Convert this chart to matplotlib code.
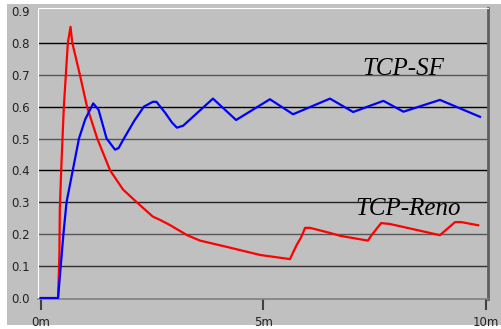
import matplotlib
matplotlib.use("Agg")
from matplotlib import pyplot as plt

# TCP-Reno (red)
reno_t = [0, 0.39, 0.41, 0.42, 0.43, 0.46, 0.52, 0.61, 0.67, 0.71, 0.88, 1.04, 1.27,
          1.56, 1.85, 2.16, 2.52, 2.68, 2.9, 3.29, 3.58, 4.19, 4.93, 5.6, 5.75, 5.85,
          5.94, 6.05, 6.5, 6.73, 7.35, 7.45, 7.65, 7.85, 8.97, 9.31, 9.45, 9.83]
reno_v = [0, 0, 0.09, 0.14, 0.28, 0.4, 0.6, 0.8, 0.85, 0.8, 0.7, 0.6, 0.5,
          0.4, 0.34, 0.3, 0.255, 0.245, 0.229, 0.197, 0.18, 0.16, 0.135, 0.122, 0.166, 0.19,
          0.22, 0.22, 0.204, 0.195, 0.18, 0.2, 0.235, 0.232, 0.197, 0.238, 0.238, 0.228]

# TCP-SF (blue)
sf_t = [0, 0.39, 0.45, 0.51, 0.58, 0.72, 0.86, 1.0, 1.18, 1.3, 1.48, 1.67, 1.75, 1.87,
        2.1, 2.32, 2.52, 2.6, 2.8, 2.95, 3.06, 3.2, 3.87, 4.39, 5.15, 5.67, 6.5, 7.02,
        7.7, 8.15, 8.97, 9.87]
sf_v = [0, 0, 0.1, 0.2, 0.3, 0.4, 0.5, 0.56, 0.61, 0.59, 0.5, 0.465, 0.47, 0.5,
        0.555, 0.6, 0.615, 0.615, 0.58, 0.55, 0.534, 0.54, 0.625, 0.558, 0.623, 0.576, 0.625, 0.583,
        0.618, 0.584, 0.621, 0.568]

yticks = [0.0, 0.1, 0.2, 0.3, 0.4, 0.5, 0.6, 0.7, 0.8, 0.9]
xticks = [0, 5, 10]
xlabels = ["0m", "5m", "10m"]

fig = plt.figure(figsize=(5.01, 3.29), dpi=100)
fig.patch.set_facecolor("white")
# gray panel behind everything
bg = plt.Rectangle((7/501, 4/329), 494/501, 321/329, transform=fig.transFigure,
                   facecolor="#c0c0c0", edgecolor="none", zorder=-10)
fig.add_artist(bg)

ax = fig.add_axes([38.3/501, 1 - 299/329, (488 - 38.3)/501, (299 - 8)/329])
ax.set_zorder(5)
ax.set_facecolor("#c0c0c0")
ax.set_xlim(-0.054, 10.05)
ax.set_ylim(-0.003, 0.909)

gridcol = ["black", "#303030", "#555555", "#222222", "black", "#555555", "black", "#555555", "black"]
for v, c in zip(yticks[1:9], gridcol[1:]):
    ax.axhline(v, color=c, lw=1.0, zorder=1)

ax.plot(reno_t, reno_v, color="#ff0000", lw=1.6, zorder=3)
ax.plot(sf_t, sf_v, color="#0000ff", lw=1.6, zorder=3)

ax.text(7.22, 0.699, "TCP-SF", family="Liberation Serif", style="italic", fontsize=18)
ax.text(7.06, 0.26, "TCP-Reno", family="Liberation Serif", style="italic", fontsize=18)

ax.spines["top"].set_color("white")
ax.spines["left"].set_color("white")
ax.spines["right"].set_color("#606060")
ax.spines["right"].set_linewidth(2)
ax.spines["bottom"].set_color("#808080")
ax.spines["bottom"].set_linewidth(1.2)

ax.set_yticks(yticks)
ax.set_yticklabels(["%.1f" % v for v in yticks])
ax.set_xticks(xticks)
ax.set_xticklabels(xlabels)
ax.tick_params(axis="y", length=0, pad=6, labelsize=8.5, labelcolor="#222222")
ax.tick_params(axis="x", length=8, width=1.5, color="#404040", pad=4, labelsize=8.5,
               labelcolor="#222222")

fig.savefig("out.png", dpi=100, facecolor="white")
